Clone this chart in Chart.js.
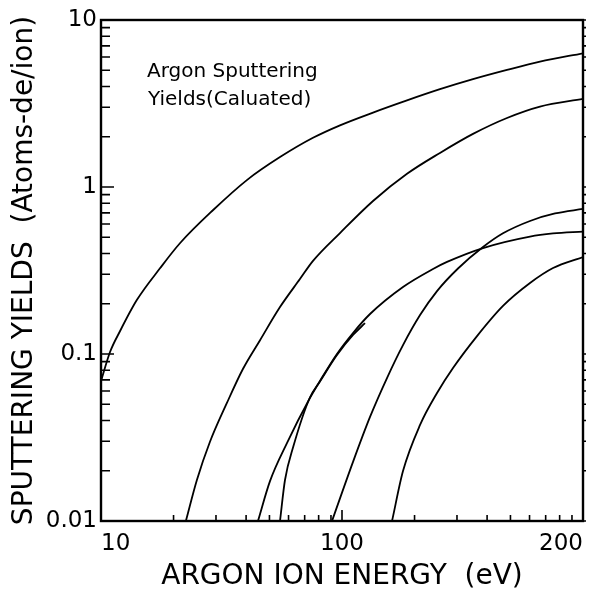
<!DOCTYPE html>
<html>
<head>
  <title>Argon Sputtering Yields</title>
  <script src="https://cdn.jsdelivr.net/npm/chart.js"></script>
  <style>
    html, body { margin: 0; padding: 0; background: #fff; }
    canvas { display: block; }
  </style>
</head>
<body>
  <canvas id="yieldChart" width="598" height="592"></canvas>

  <script>
    // axis ticks (x axis is drawn as a log decade 10..1000, the right end is labelled 200)
    const xTickValues = [10, 100, 1000];
    const xTickLabels = ["10", "100", "200"];
    const xMinorTicks = [20, 30, 40, 50, 60, 70, 80, 90, 200, 300, 400, 500, 600, 700, 800, 900];
    const yTickValues = [0.01, 0.1, 1, 10];
    const yTickLabels = ["0.01", "0.1", "1", "10"];
    const yMinorTicks = [0.02, 0.03, 0.04, 0.05, 0.06, 0.07, 0.08, 0.09,
                         0.2, 0.3, 0.4, 0.5, 0.6, 0.7, 0.8, 0.9,
                         2, 3, 4, 5, 6, 7, 8, 9];

    // curves (energy in axis units, yield in atoms/ion)
    const curveA_E = [10, 10.9, 12.0, 14.1, 17.6, 21.3, 29.2, 40.3, 55.3, 75.8, 98.1, 134.5, 186.1, 255, 349.6, 483.7, 663, 1000];
    const curveA_Y = [0.0689, 0.1028, 0.1373, 0.211, 0.327, 0.462, 0.728, 1.10, 1.51, 1.97, 2.34, 2.79, 3.30, 3.85, 4.42, 5.02, 5.63, 6.32];

    const curveB_E = [22.5, 25.0, 28.3, 33.3, 38.8, 45.7, 55.3, 66.9, 75.8, 98.1, 134.5, 186.1, 255, 349.6, 483.7, 663, 1000];
    const curveB_Y = [0.01, 0.0176, 0.0297, 0.0509, 0.0813, 0.121, 0.191, 0.281, 0.361, 0.530, 0.825, 1.20, 1.60, 2.08, 2.59, 3.03, 3.37];

    const curveC_E = [44.8, 50.3, 59.1, 73.6, 81.0, 95.3, 111.1, 130.7, 179.1, 238.6, 272.8, 384.7, 602.7, 751, 1000];
    const curveC_Y = [0.01, 0.0174, 0.0293, 0.0545, 0.0689, 0.100, 0.1336, 0.1736, 0.252, 0.323, 0.356, 0.431, 0.505, 0.527, 0.541];

    const curveD_E = [55.3, 58.0, 62.8, 73.6, 81.0, 95.3, 111.1, 124.6];
    const curveD_Y = [0.01, 0.0176, 0.0279, 0.0549, 0.0684, 0.0986, 0.130, 0.153];

    const curveE_E = [90.9, 111.1, 130.7, 153.7, 179.1, 210.8, 247.9, 302.9, 384.7, 465.6, 602.7, 765.3, 1000];
    const curveE_Y = [0.01, 0.0226, 0.042, 0.0718, 0.113, 0.171, 0.238, 0.325, 0.437, 0.528, 0.626, 0.694, 0.739];

    const curveF_E = [161.3, 179.1, 210.8, 247.9, 288.8, 363.3, 465.6, 602.7, 751, 1000];
    const curveF_Y = [0.01, 0.0199, 0.0376, 0.0584, 0.0824, 0.128, 0.194, 0.266, 0.327, 0.381];

    const allCurves = [
      [curveA_E, curveA_Y], [curveB_E, curveB_Y], [curveC_E, curveC_Y],
      [curveD_E, curveD_Y], [curveE_E, curveE_Y], [curveF_E, curveF_Y]
    ];

    const fontFamily = "'DejaVu Sans', sans-serif";

    function toPoints(energies, yields) {
      return energies.map((e, i) => ({ x: e, y: yields[i] }));
    }

    // inward tick marks, frame and the note in the corner
    const axisFrame = {
      id: "axisFrame",
      afterDraw(chart) {
        const { ctx, chartArea: a } = chart;
        const x = chart.scales.x;
        const y = chart.scales.y;
        ctx.save();
        ctx.strokeStyle = "#000";
        ctx.lineWidth = 1.6;
        ctx.beginPath();
        xTickValues.forEach(v => {
          const px = x.getPixelForValue(v);
          ctx.moveTo(px, a.bottom); ctx.lineTo(px, a.bottom - 11);
        });
        xMinorTicks.forEach(v => {
          const px = x.getPixelForValue(v);
          ctx.moveTo(px, a.bottom); ctx.lineTo(px, a.bottom - 6);
        });
        yTickValues.forEach(v => {
          const py = y.getPixelForValue(v);
          ctx.moveTo(a.left, py); ctx.lineTo(a.left + 13, py);
          ctx.moveTo(a.right, py); ctx.lineTo(a.right + 3, py);
        });
        yMinorTicks.forEach(v => {
          const py = y.getPixelForValue(v);
          ctx.moveTo(a.left, py); ctx.lineTo(a.left + 9, py);
          ctx.moveTo(a.right, py); ctx.lineTo(a.right + 3, py);
        });
        ctx.stroke();

        ctx.lineWidth = 2.4;
        ctx.strokeRect(a.left, a.top, a.right - a.left, a.bottom - a.top);

        ctx.fillStyle = "#000";
        ctx.font = "20px " + fontFamily;
        ctx.textBaseline = "alphabetic";
        ctx.fillText("Argon Sputtering", a.left + 46, a.top + 57);
        ctx.fillText("Yields(Caluated)", a.left + 47, a.top + 85);
        ctx.restore();
      }
    };

    const ctx = document.getElementById("yieldChart").getContext("2d");

    new Chart(ctx, {
      type: "line",
      data: {
        datasets: allCurves.map(([e, y]) => ({
          data: toPoints(e, y),
          borderColor: "#000",
          borderWidth: 1.8,
          pointRadius: 0,
          fill: false,
          cubicInterpolationMode: "monotone"
        }))
      },
      options: {
        responsive: false,
        animation: false,
        layout: { padding: { top: 20, right: 15, left: 0, bottom: 0 } },
        plugins: {
          legend: { display: false },
          tooltip: { enabled: false }
        },
        scales: {
          x: {
            type: "logarithmic",
            min: 10,
            max: 1000,
            grid: { display: false, drawTicks: false },
            border: { display: false },
            afterBuildTicks: s => { s.ticks = xTickValues.map(v => ({ value: v })); },
            afterFit: s => { s.height = 71; s.paddingLeft = 0; s.paddingRight = 0; },
            ticks: {
              align: "inner",
              padding: 9,
              color: "#000",
              maxRotation: 0,
              font: { family: fontFamily, size: 23 },
              callback: (v, i) => xTickLabels[i]
            },
            title: {
              display: true,
              text: "ARGON ION ENERGY  (eV)",
              color: "#000",
              font: { family: fontFamily, size: 28, lineHeight: 1 },
              padding: { top: 0, bottom: 1 }
            }
          },
          y: {
            type: "logarithmic",
            min: 0.01,
            max: 10,
            grid: { display: false, drawTicks: false },
            border: { display: false },
            afterBuildTicks: s => { s.ticks = yTickValues.map(v => ({ value: v })); },
            afterFit: s => { s.width = 101; s.paddingTop = 0; s.paddingBottom = 0; },
            ticks: {
              padding: 4,
              color: "#000",
              font: { family: fontFamily, size: 23 },
              callback: (v, i) => yTickLabels[i]
            },
            title: {
              display: true,
              text: "SPUTTERING YIELDS  (Atoms-de/ion)",
              color: "#000",
              font: { family: fontFamily, size: 28, lineHeight: 1 },
              padding: { top: 11, bottom: 0 }
            }
          }
        }
      },
      plugins: [axisFrame]
    });
  </script>
</body>
</html>
